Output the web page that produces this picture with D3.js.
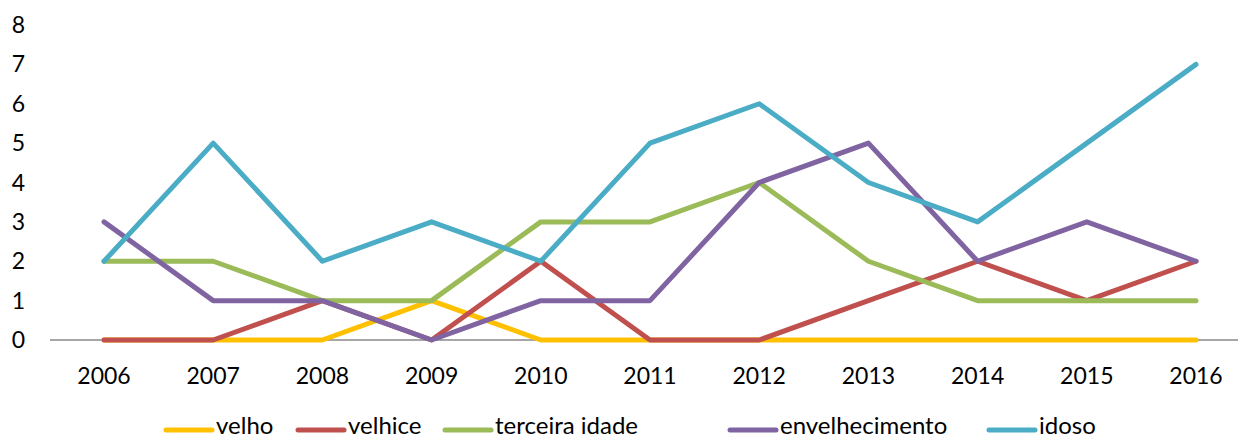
<!DOCTYPE html>
<html>
<head>
<meta charset="utf-8">
<script src="https://cdn.jsdelivr.net/npm/d3@7"></script>
<style>
  body { margin: 0; background: white; }
  svg text { font-family: Lato, "Open Sans", sans-serif; fill: black; }
</style>
</head>
<body>
<div id="container"></div>
<script>
let years = ["2006","2007","2008","2009","2010","2011","2012","2013","2014","2015","2016"];
let seriesNames = ["velho","velhice","terceira idade","envelhecimento","idoso"];
let seriesColors = ["#FFC000","#C0504D","#9BBB59","#8064A2","#4BACC6"];

let velho = [0,0,0,1,0,0,0,0,0,0,0];
let velhice = [0,0,1,0,2,0,0,1,2,1,2];
let terceiraIdade = [2,2,1,1,3,3,4,2,1,1,1];
let envelhecimento = [3,1,1,0,1,1,4,5,2,3,2];
let idoso = [2,5,2,3,2,5,6,4,3,5,7];

let yTicks = [0,1,2,3,4,5,6,7,8];

let allSeries = [velho, velhice, terceiraIdade, envelhecimento, idoso];

let w = 1238;
let h = 441;

let viz = d3.select("#container")
  .append("svg")
    .attr("width", w)
    .attr("height", h)
    .style("display", "block")
;

let xScale = d3.scalePoint().domain(years).range([104, 1196]);
let yScale = d3.scaleLinear().domain([0, 8]).range([340, 25]);

// y labels
viz.selectAll(".ylab").data(yTicks).enter()
  .append("text")
    .attr("class", "ylab")
    .attr("x", 25)
    .attr("y", d => yScale(d))
    .attr("dy", "0.35em")
    .attr("text-anchor", "end")
    .style("font-size", "23px")
    .text(d => d)
;

// x axis line
viz.append("line")
  .attr("x1", 50)
  .attr("x2", 1250)
  .attr("y1", yScale(0))
  .attr("y2", yScale(0))
  .attr("stroke", "#888")
  .attr("stroke-width", 1.5)
;

viz.selectAll(".xlab").data(years).enter()
  .append("text")
    .attr("class", "xlab")
    .attr("x", d => xScale(d))
    .attr("y", 376)
    .attr("dy", "0.35em")
    .attr("text-anchor", "middle")
    .style("font-size", "23px")
    .text(d => d)
;

let line = d3.line()
  .x((d, i) => xScale(years[i]))
  .y(d => yScale(d));

viz.selectAll(".series").data(allSeries).enter()
  .append("path")
    .attr("class", "series")
    .attr("d", line)
    .attr("fill", "none")
    .attr("stroke", (d, i) => seriesColors[i])
    .attr("stroke-width", 5)
    .attr("stroke-linejoin", "round")
    .attr("stroke-linecap", "round")
;

// legend, item positions as in the original layout
let legendX = [164, 296, 443, 728, 987];
let legend = viz.append("g").attr("transform", "translate(0,430)");
let items = legend.selectAll(".item").data(seriesNames).enter()
  .append("g")
    .attr("class", "item")
    .attr("transform", (d, i) => "translate(" + legendX[i] + ",0)")
;
items.append("line")
  .attr("x1", 2).attr("x2", 48)
  .attr("y1", 0).attr("y2", 0)
  .attr("stroke", (d, i) => seriesColors[i])
  .attr("stroke-width", 5)
  .attr("stroke-linecap", "round");
items.append("text")
  .attr("x", 52)
  .attr("y", 4)
  .style("font-size", "24px")
  .text(d => d);
</script>
</body>
</html>
